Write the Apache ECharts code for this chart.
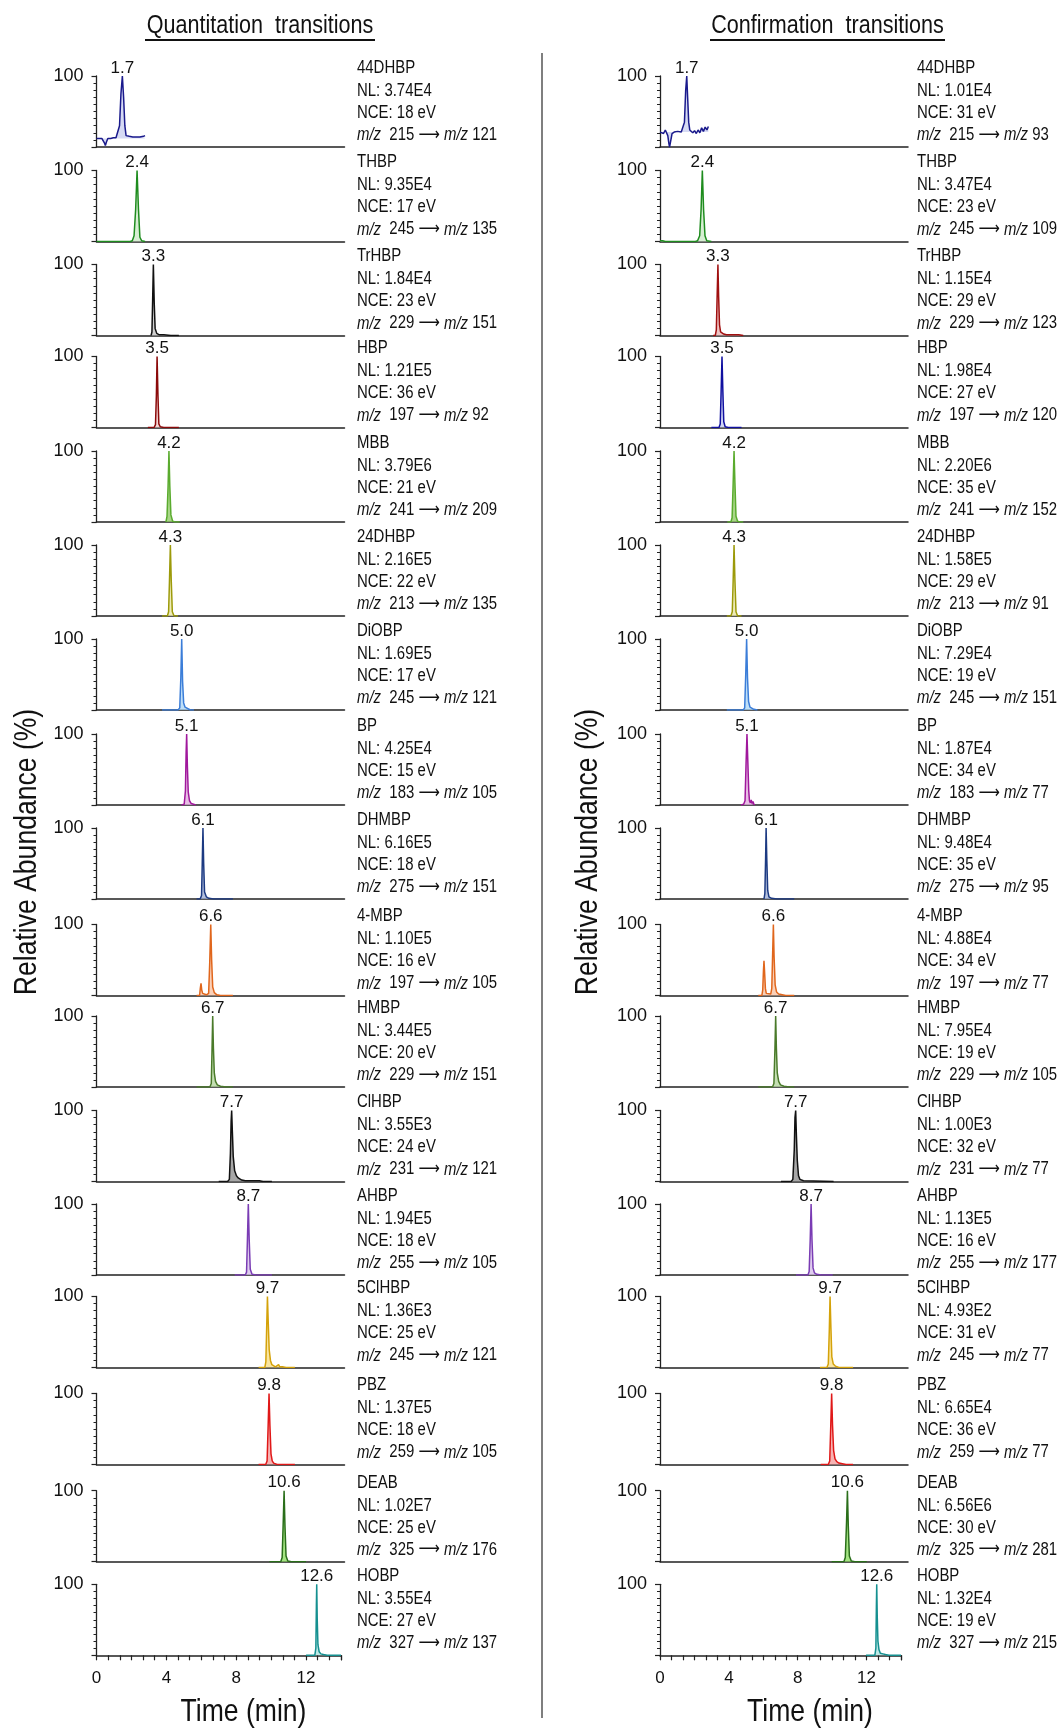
<!DOCTYPE html>
<html><head><meta charset="utf-8">
<script src="https://cdn.jsdelivr.net/npm/echarts@6/dist/echarts.min.js"></script>
<style>html,body{margin:0;padding:0;background:#fff}#c{width:1062px;height:1729px}</style>
</head><body><div id="c"></div>
<script>
// ---------------- DATA ----------------
const compounds = ['44DHBP','THBP','TrHBP','HBP','MBB','24DHBP','DiOBP','BP','DHMBP','4-MBP','HMBP','ClHBP','AHBP','5ClHBP','PBZ','DEAB','HOBP'];
const rtLabels = ['1.7','2.4','3.3','3.5','4.2','4.3','5.0','5.1','6.1','6.6','6.7','7.7','8.7','9.7','9.8','10.6','12.6'];
const precursor = [215,245,229,197,241,213,245,183,275,197,229,231,255,245,259,325,327];
const quantNL = ['3.74E4','9.35E4','1.84E4','1.21E5','3.79E6','2.16E5','1.69E5','4.25E4','6.16E5','1.10E5','3.44E5','3.55E3','1.94E5','1.36E3','1.37E5','1.02E7','3.55E4'];
const quantNCE = [18,17,23,36,21,22,17,15,18,16,20,24,18,25,18,25,27];
const quantProduct = [121,135,151,92,209,135,121,105,151,105,151,121,105,121,105,176,137];
const confNL = ['1.01E4','3.47E4','1.15E4','1.98E4','2.20E6','1.58E5','7.29E4','1.87E4','9.48E4','4.88E4','7.95E4','1.00E3','1.13E5','4.93E2','6.65E4','6.56E6','1.32E4'];
const confNCE = [31,23,29,27,35,29,19,34,35,34,19,32,16,31,36,30,19];
const confProduct = [93,109,123,120,152,91,151,77,95,77,105,77,177,77,77,281,215];
const xTickLabels = [0,4,8,12];

// Quantitation traces [time (min), relative abundance (%)]
const Q01 = [[0,12],[0.15,12],[0.3,12],[0.4,11],[0.46,5],[0.5,2],[0.56,7],[0.64,12],[0.8,12],[0.95,13],[1.1,13],[1.2,14],[1.3,30],[1.38,75],[1.46,100],[1.53,70],[1.6,30],[1.67,16],[1.75,14],[1.85,15],[1.95,13],[2.05,14],[2.15,13],[2.25,14],[2.35,15],[2.45,14],[2.55,15],[2.65,15],[2.74,16]];
const Q02 = [[0,0],[1.9,0],[2.02,1],[2.12,8],[2.21,45],[2.29,100],[2.37,45],[2.45,6],[2.55,1],[2.74,0]];
const Q03 = [[3.08,0],[3.13,5],[3.17,50],[3.21,100],[3.26,45],[3.31,10],[3.4,3],[3.55,1],[3.8,1],[4.2,0],[4.65,0]];
const Q04 = [[2.9,0],[3.25,0],[3.33,4],[3.38,45],[3.42,100],[3.47,45],[3.52,5],[3.6,1],[3.8,0],[4.65,0]];
const Q05 = [[3.92,0],[3.98,8],[4.04,50],[4.09,100],[4.14,50],[4.2,10],[4.3,1],[4.45,0],[4.7,0]];
const Q06 = [[3.7,0],[4.0,0],[4.07,6],[4.12,50],[4.17,100],[4.22,50],[4.28,6],[4.38,0],[4.6,0]];
const Q07 = [[3.7,0],[4.6,0],[4.7,3],[4.76,45],[4.81,100],[4.86,40],[4.92,10],[5.0,4],[5.1,2],[5.3,0],[5.5,0]];
const Q08 = [[4.8,0],[4.95,1],[5.02,20],[5.06,75],[5.09,100],[5.13,55],[5.18,18],[5.25,6],[5.35,2],[5.45,1],[5.6,0]];
const Q09 = [[5.65,0],[5.85,0],[5.93,5],[5.97,50],[6.01,100],[6.05,50],[6.1,10],[6.2,3],[6.35,1],[6.6,0],[7.7,0]];
const Q10 = [[5.65,0],[5.82,0],[5.86,10],[5.9,17],[5.94,8],[5.99,3],[6.05,2],[6.2,1],[6.33,3],[6.39,45],[6.45,100],[6.5,50],[6.56,12],[6.65,4],[6.8,1],[7.0,0],[7.7,0]];
const Q11 = [[5.65,0],[6.4,0],[6.48,5],[6.52,50],[6.56,100],[6.6,55],[6.65,20],[6.72,8],[6.82,3],[7.0,1],[7.3,0],[7.7,0]];
const Q12 = [[6.9,0],[7.4,0],[7.5,3],[7.56,40],[7.6,85],[7.63,100],[7.67,70],[7.72,35],[7.8,15],[7.9,8],[8.0,5],[8.1,3],[8.2,2],[8.3,3],[8.4,1],[8.5,2],[8.6,1],[8.7,2],[8.8,1],[8.9,2],[9.0,1],[9.1,2],[9.2,1],[9.3,2],[9.4,0],[9.6,0],[9.9,0]];
const Q13 = [[7.8,0],[8.4,0],[8.47,4],[8.52,50],[8.57,100],[8.62,50],[8.68,8],[8.78,1],[9.0,0],[9.9,0]];
const Q14 = [[9.15,0],[9.5,0],[9.56,8],[9.61,60],[9.65,100],[9.7,60],[9.75,25],[9.82,10],[9.9,4],[10.0,2],[10.1,1],[10.2,1],[10.28,4],[10.34,1],[10.5,1],[10.7,0],[11.2,0]];
const Q15 = [[9.15,0],[9.55,0],[9.63,5],[9.69,55],[9.74,100],[9.79,55],[9.85,15],[9.92,5],[10.0,2],[10.2,0],[11.2,0]];
const Q16 = [[9.76,0],[10.4,0],[10.48,6],[10.54,55],[10.59,100],[10.64,50],[10.7,8],[10.8,1],[11.0,0],[11.83,0]];
const Q17 = [[12.0,0],[12.5,0],[12.56,10],[12.59,70],[12.61,100],[12.64,50],[12.68,15],[12.75,5],[12.85,2],[13.0,1],[13.2,0],[14.0,0]];

// Confirmation traces
const C01 = [[0,21],[0.1,22],[0.2,19],[0.3,24],[0.38,22],[0.44,16],[0.5,5],[0.54,0],[0.6,8],[0.68,19],[0.8,21],[0.9,20],[1.0,22],[1.1,23],[1.2,21],[1.3,22],[1.38,35],[1.45,80],[1.51,100],[1.56,70],[1.62,35],[1.68,24],[1.75,25],[1.85,20],[1.95,23],[2.05,19],[2.15,24],[2.25,20],[2.35,27],[2.45,22],[2.55,28],[2.65,24],[2.73,29]];
const C02 = [[0,1],[0.08,2],[0.15,1],[0.3,0],[2.0,0],[2.12,1],[2.24,8],[2.32,45],[2.39,100],[2.46,45],[2.54,8],[2.64,1],[2.9,0]];
const C03 = [[3.0,0],[3.12,0],[3.18,8],[3.23,60],[3.27,100],[3.31,55],[3.36,15],[3.42,5],[3.5,3],[3.6,2],[3.75,1],[4.0,1],[4.3,1],[4.45,1],[4.5,3],[4.55,1],[4.7,0]];
const C04 = [[2.9,0],[3.33,0],[3.4,5],[3.45,50],[3.5,100],[3.55,50],[3.6,8],[3.68,1],[3.85,0],[4.6,0]];
const C05 = [[3.8,0],[4.0,0],[4.07,6],[4.13,55],[4.18,100],[4.23,55],[4.29,8],[4.38,1],[4.5,0],[4.7,0]];
const C06 = [[3.77,0],[4.0,0],[4.08,6],[4.13,50],[4.18,100],[4.23,50],[4.29,6],[4.38,0],[4.6,0]];
const C07 = [[3.77,0],[4.7,0],[4.78,3],[4.84,50],[4.89,100],[4.94,45],[5.0,12],[5.08,4],[5.18,2],[5.3,1],[5.5,0]];
const C08 = [[4.57,0],[4.65,2],[4.72,1],[4.8,6],[4.86,60],[4.91,100],[4.96,60],[5.01,20],[5.05,6],[5.1,3],[5.15,7],[5.2,2],[5.25,5],[5.3,1],[5.35,0]];
const C09 = [[5.87,0],[5.92,8],[5.96,55],[5.99,100],[6.03,55],[6.08,12],[6.15,3],[6.3,1],[6.6,0],[7.58,0]];
const C10 = [[5.55,0],[5.75,0],[5.8,8],[5.84,35],[5.87,49],[5.9,35],[5.95,10],[6.0,3],[6.1,2],[6.25,2],[6.31,10],[6.36,60],[6.4,100],[6.44,55],[6.5,15],[6.58,5],[6.7,2],[6.9,1],[7.1,0],[7.58,0]];
const C11 = [[5.55,0],[6.35,0],[6.43,5],[6.49,55],[6.53,100],[6.57,55],[6.62,20],[6.7,8],[6.8,3],[7.0,1],[7.3,0],[7.58,0]];
const C12 = [[6.83,0],[7.4,0],[7.5,3],[7.58,45],[7.62,90],[7.66,100],[7.7,65],[7.75,30],[7.82,8],[7.9,3],[8.0,2],[8.1,1],[8.2,0],[9.8,0]];
const C13 = [[7.68,0],[8.35,0],[8.42,5],[8.48,50],[8.53,100],[8.58,50],[8.64,10],[8.72,3],[8.85,1],[9.1,0],[9.75,0]];
const C14 = [[9.03,0],[9.42,0],[9.5,5],[9.56,55],[9.6,100],[9.65,55],[9.7,15],[9.78,5],[9.9,2],[10.1,0],[10.9,0]];
const C15 = [[9.07,0],[9.5,0],[9.58,5],[9.64,55],[9.69,100],[9.74,55],[9.8,20],[9.88,8],[9.98,4],[10.1,2],[10.2,3],[10.3,1],[10.5,0],[10.9,0]];
const C16 = [[9.69,0],[10.38,0],[10.46,6],[10.53,55],[10.58,100],[10.63,50],[10.69,8],[10.8,1],[11.0,0],[11.67,0]];
const C17 = [[11.97,0],[12.48,0],[12.54,10],[12.57,70],[12.59,100],[12.62,55],[12.66,20],[12.72,8],[12.8,3],[12.9,4],[12.95,2],[13.1,1],[13.3,0],[14.0,0]];

const quantTraces = [Q01,Q02,Q03,Q04,Q05,Q06,Q07,Q08,Q09,Q10,Q11,Q12,Q13,Q14,Q15,Q16,Q17];
const confTraces = [C01,C02,C03,C04,C05,C06,C07,C08,C09,C10,C11,C12,C13,C14,C15,C16,C17];

// ---------------- STYLE / LAYOUT ----------------
const quantColors = ['#1a1a8c','#1e8c1e','#111111','#8b0a0a','#5aab2e','#9c9a0a','#3b7dd8','#a0189c','#1c3a82','#e0661c','#4a7a2a','#111111','#7a3cb4','#d4a20a','#e01818','#2a6e1a','#159090'];
const quantFills  = ['#c8cdf0','#c9e8c4','#c0c0c0','#f0c8c8','#8cc860','#e8e4a0','#a8d4f5','#e0a8dc','#9aaad0','#f8c0a0','#b0d498','#8a8a8a','#d4bce8','#f8dc80','#f49a9a','#86dc58','#a8e0dc'];
const confColors  = ['#1a1a8c','#1e8c1e','#a01010','#1010a0','#5aab2e','#9c9a0a','#3b7dd8','#a0189c','#1c3a82','#e0661c','#4a7a2a','#111111','#7a3cb4','#d4a20a','#e01818','#2a6e1a','#159090'];
const confFills   = ['#c8cdf0','#c9e8c4','#e8b0b0','#c0c8f0','#8cc860','#e8e4a0','#a8d4f5','#e0a8dc','#9aaad0','#f8c0a0','#b0d498','#8a8a8a','#d4bce8','#f8dc80','#f49a9a','#86dc58','#a8e0dc'];
const rowTops = [76,170.5,264.5,356.5,451,545,639,734,828,924.5,1016,1110.5,1204,1296.5,1393.5,1490.7,1584.3];
const plotH = 71;
const FONT = "'Liberation Sans', Arial, sans-serif";
const NARROW = 0.83;   // horizontal squeeze to imitate a narrow sans face
const TXT = '#111';

const cols = [
  {traces: quantTraces, colors: quantColors, fills: quantFills, nl: quantNL, nce: quantNCE, prod: quantProduct,
   left: 96.5, width: 248, widthLast: 244.5, textX: 357, origin0: 12},
  {traces: confTraces, colors: confColors, fills: confFills, nl: confNL, nce: confNCE, prod: confProduct,
   left: 660, width: 248, widthLast: 241, textX: 917, origin0: 21}
];

const grids = [], xAxes = [], yAxes = [], series = [], graphics = [];
const axisCol = '#222';
cols.forEach((col, c) => {
  col.traces.forEach((trace, r) => {
    const idx = c * compounds.length + r;
    const last = r === compounds.length - 1;
    grids.push({left: col.left, top: rowTops[r], width: last ? col.widthLast : col.width, height: plotH});
    xAxes.push({
      type: 'value', gridIndex: idx, min: 0, max: 14, interval: 2 / 3,
      axisLine: {show: true, onZero: false, lineStyle: {color: axisCol, width: 1.5}},
      axisTick: {show: last, length: 5, lineStyle: {color: axisCol, width: 1.2}},
      axisLabel: {show: last, interval: 0, margin: 15, fontSize: 17, fontFamily: FONT, color: TXT,
        formatter: v => { const k = xTickLabels.find(t => Math.abs(t - v) < 1e-6); return k === undefined ? '' : String(k); }},
      splitLine: {show: false}
    });
    yAxes.push({
      type: 'value', gridIndex: idx, min: 0, max: 100, interval: 100,
      axisLine: {show: true, lineStyle: {color: axisCol, width: 1.3}},
      axisTick: {show: true, length: 5, lineStyle: {color: axisCol, width: 1.2}},
      minorTick: {show: true, splitNumber: 10, length: 3, lineStyle: {color: axisCol, width: 1}},
      axisLabel: {margin: 13, fontSize: 18, fontFamily: FONT, color: TXT, padding: [6, 0, 0, 0],
        formatter: v => v === 100 ? '100' : ''},
      splitLine: {show: false}, minorSplitLine: {show: false}
    });
    let pk = trace[0];
    trace.forEach(p => { if (p[1] > pk[1]) pk = p; });
    series.push({
      type: 'line', xAxisIndex: idx, yAxisIndex: idx, data: trace, symbol: 'none', showSymbol: false,
      silent: true, animation: false,
      lineStyle: {color: col.colors[r], width: 1.5},
      itemStyle: {color: col.colors[r]},
      areaStyle: {color: col.fills[r], opacity: 0.75, origin: r === 0 ? col.origin0 : 'start'},
      markPoint: {
        symbol: 'circle', symbolSize: 1, itemStyle: {color: 'rgba(0,0,0,0)'}, silent: true, animation: false,
        data: [{coord: [pk[0], pk[1]], value: rtLabels[r]}],
        label: {show: true, position: 'top', distance: -1, formatter: rtLabels[r], color: TXT, fontSize: 17, fontFamily: FONT}
      }
    });
    const top = rowTops[r];
    const base = {fontSize: 18, fontFamily: FONT, fill: TXT, verticalAlign: 'middle', align: 'left'};
    const txt = (y, style) => graphics.push({type: 'text', x: col.textX, y: y, scaleX: NARROW, style: Object.assign(style, base)});
    txt(top - 8, {text: compounds[r]});
    txt(top + 15, {text: 'NL: ' + col.nl[r]});
    txt(top + 37, {text: 'NCE: ' + col.nce[r] + ' eV'});
    txt(top + 59, {
      text: '{i|m/z}  ' + precursor[r] + ' {a|\u27F6} {i|m/z} ' + col.prod[r],
      rich: {
        i: {fontStyle: 'italic', fontSize: 18, fontFamily: FONT, fill: TXT, color: TXT},
        a: {fontSize: 18, fontFamily: "'DejaVu Sans', sans-serif", fill: TXT, color: TXT}
      }
    });
  });
});

// headers, axis titles, divider
const headers = [
  {text: 'Quantitation  transitions', cx: 260, x1: 145, x2: 375},
  {text: 'Confirmation  transitions', cx: 827.5, x1: 710, x2: 945}
];
headers.forEach(h => {
  graphics.push({type: 'text', x: h.cx, y: 26, scaleX: NARROW, style: {text: h.text, fontSize: 26, fontFamily: FONT, fill: TXT, align: 'center', verticalAlign: 'middle'}});
  graphics.push({type: 'line', shape: {x1: h.x1, y1: 40, x2: h.x2, y2: 40}, style: {stroke: TXT, lineWidth: 2}});
});
[27, 588].forEach(x => {
  graphics.push({type: 'text', x: x, y: 852, rotation: Math.PI / 2, scaleX: NARROW,
    style: {text: 'Relative Abundance (%)', fontSize: 32, fontFamily: FONT, fill: TXT, align: 'center', verticalAlign: 'middle'}});
});
[243.5, 810].forEach(x => {
  graphics.push({type: 'text', x: x, y: 1712, scaleX: NARROW, style: {text: 'Time (min)', fontSize: 32, fontFamily: FONT, fill: TXT, align: 'center', verticalAlign: 'middle'}});
});
graphics.push({type: 'line', shape: {x1: 542, y1: 53, x2: 542, y2: 1718}, style: {stroke: '#555', lineWidth: 1.5}});

const chart = echarts.init(document.getElementById('c'), null, {renderer: 'canvas'});
chart.setOption({
  backgroundColor: '#fff', animation: false,
  grid: grids, xAxis: xAxes, yAxis: yAxes, series: series, graphic: graphics
});
</script></body></html>
